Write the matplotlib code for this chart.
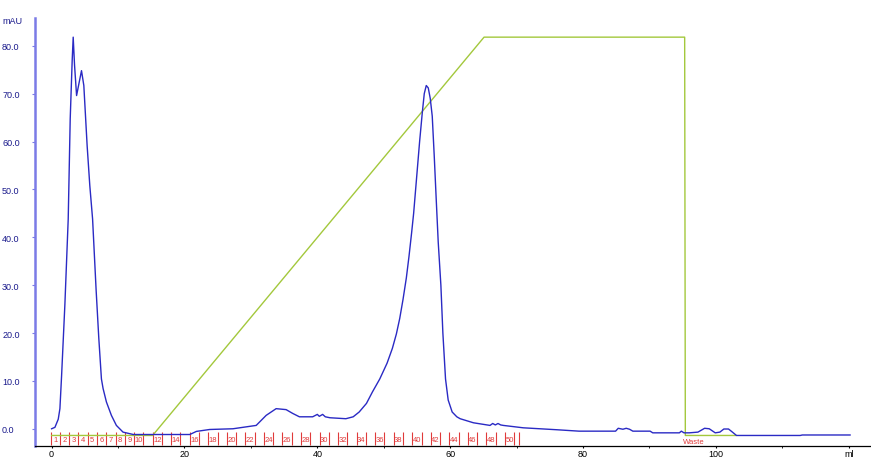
import matplotlib.pyplot as plt

# UV-Kurve (ml, mAU)
uv_ml = [0.0, 0.5, 1.0, 1.25, 1.5, 2.0, 2.5, 2.8, 2.97, 3.1, 3.25, 3.45, 3.76, 4.1, 4.5,
         4.85, 5.35, 5.75, 6.17, 6.7, 7.1, 7.5, 7.75, 8.25, 9.0, 9.75, 10.75, 12.3,
         20.8, 21.8, 23.8, 27.3, 30.8, 32.3, 33.8, 35.3, 36.3, 37.3, 39.3, 40.0, 40.3,
         40.8, 41.2, 41.9, 44.3, 45.4, 46.3, 47.4, 48.3, 49.4, 50.5, 51.3, 51.9, 52.4,
         52.9, 53.4, 53.8, 54.2, 54.5, 54.8, 55.1, 55.4, 55.8, 56.1, 56.4, 56.7, 57.0, 57.3,
         57.6, 57.9, 58.2, 58.6, 58.9, 59.3, 59.7, 60.3, 61.0,
         61.5, 63.5, 66.0, 66.4, 66.8, 67.2, 67.6, 68.0, 71.0, 76.0, 79.4, 84.9, 85.3,
         86.0, 86.5, 87.0, 87.5, 90.1, 90.5, 94.5, 94.8, 95.2, 96.0, 97.3, 98.3, 99.0,
         99.9, 100.6, 101.2, 101.9, 102.4, 103.1, 112.7, 113.0, 120.2]
uv_mau = [0.0, 0.3, 2.0, 4.2, 11.0, 26.0, 43.8, 64.7, 71.7, 77.0, 81.8, 76.0, 69.6, 72.0, 74.8,
          71.7, 59.1, 50.8, 43.8, 29.0, 19.0, 10.4, 8.4, 5.6, 2.8, 0.7, -0.7, -1.2,
          -1.2, -0.55, -0.15, 0.0, 0.7, 2.8, 4.2, 4.0, 3.2, 2.5, 2.5, 3.0, 2.6,
          3.0, 2.5, 2.3, 2.1, 2.5, 3.5, 5.3, 7.7, 10.4, 13.7, 16.8, 19.8, 23.0,
          27.0, 31.5, 36.0, 41.0, 45.0, 50.0, 55.0, 60.0, 66.0, 70.0, 71.7, 71.2, 69.0, 65.3,
          57.0, 47.9, 39.0, 30.0, 20.0, 10.4, 6.0, 3.5, 2.5,
          2.1, 1.25, 0.7, 1.1, 0.8, 1.1, 0.8, 0.7, 0.2, -0.2, -0.5, -0.5, 0.1,
          -0.1, 0.1, -0.1, -0.5, -0.5, -0.85, -0.85, -0.5, -0.85, -0.85, -0.7, 0.1, 0.0,
          -0.85, -0.7, -0.05, -0.05, -0.6, -1.4, -1.4, -1.3, -1.3]

# Gradient (in mAU-Skala gezeichnet)
grad_ml = [0.0, 15.2, 65.1, 95.3, 95.4, 103.0]
grad_val = [-1.4, -1.4, 81.8, 81.8, -1.4, -1.4]

# Fraktionen
frac_edges = [-0.15, 1.25, 2.64, 4.04, 5.43, 6.83, 8.23, 9.62, 11.02, 12.41, 13.81,
              15.21, 16.6, 18.0, 19.39, 20.79, 22.19, 23.58, 24.98, 26.37, 27.77,
              29.17, 30.56, 31.96, 33.35, 34.75, 36.15, 37.54, 38.94, 40.33, 41.73,
              43.13, 44.52, 45.92, 47.31, 48.71, 50.11, 51.5, 52.9, 54.29, 55.69,
              57.09, 58.48, 59.88, 61.27, 62.67, 64.07, 65.46, 66.86, 68.25, 69.65, 70.3]
frac_shown = [1, 2, 3, 4, 5, 6, 7, 8, 9, 10, 12, 14, 16, 18, 20, 22, 24, 26, 28, 30,
              32, 34, 36, 38, 40, 42, 44, 46, 48, 50]
waste_ml = 96.6

x_ticks = [0, 20, 40, 60, 80, 100, 120]
x_labels = ['0', '20', '40', '60', '80', '100', 'ml']
y_ticks = [0, 10, 20, 30, 40, 50, 60, 70, 80]

plt.rcParams['font.family'] = ['Liberation Sans', 'DejaVu Sans']

fig = plt.figure(figsize=(8.71, 4.6), dpi=100)
ax = fig.add_axes([35/871, 13/460, 835/871, 428/460])
ax.set_xlim(-2.5, 123.2)
ax.set_ylim(-3.6, 85.8)

ax.plot(grad_ml, grad_val, color='#a3c83c', lw=1.0, zorder=2)
ax.plot(uv_ml, uv_mau, color='#2a2ac4', lw=1.0, zorder=3)

# Fraktionsmarken
red = '#e03a3a'
ax.vlines(frac_edges, -3.3, -0.7, color=red, lw=0.8, zorder=1)
for n in frac_shown:
    xc = (frac_edges[n - 1] + frac_edges[n]) / 2
    ax.text(xc, -2.2, str(n), color=red, fontsize=5.5, ha='center', va='center')
ax.text(waste_ml, -2.7, 'Waste', color=red, fontsize=5.5, ha='center', va='center')

# Achsen
ax.spines['top'].set_visible(False)
ax.spines['right'].set_visible(False)
ax.spines['left'].set_color('#7b7be6')
ax.spines['left'].set_linewidth(1.8)
ax.spines['bottom'].set_color('black')
ax.spines['bottom'].set_linewidth(0.9)

ax.set_xticks(x_ticks)
ax.set_xticklabels(x_labels)
ax.set_xticks([10, 30, 50, 70, 90, 110], minor=True)
ax.tick_params(axis='x', which='major', length=1.5, pad=0.8, labelsize=6.5, colors='black')
ax.tick_params(axis='x', which='minor', length=1.2)

ax.set_yticks(y_ticks)
ax.set_yticklabels(['%.1f' % v for v in y_ticks])
ax.tick_params(axis='y', length=2, pad=21.7, labelsize=6.5, colors='#7b7be6',
               labelcolor='#1a1a8c')
for lbl in ax.get_yticklabels():
    lbl.set_horizontalalignment('left')

fig.text(2/871, 1 - 22/460, 'mAU', color='#1a1a8c', fontsize=6.5, ha='left', va='center')

fig.savefig('out.png', dpi=100)
